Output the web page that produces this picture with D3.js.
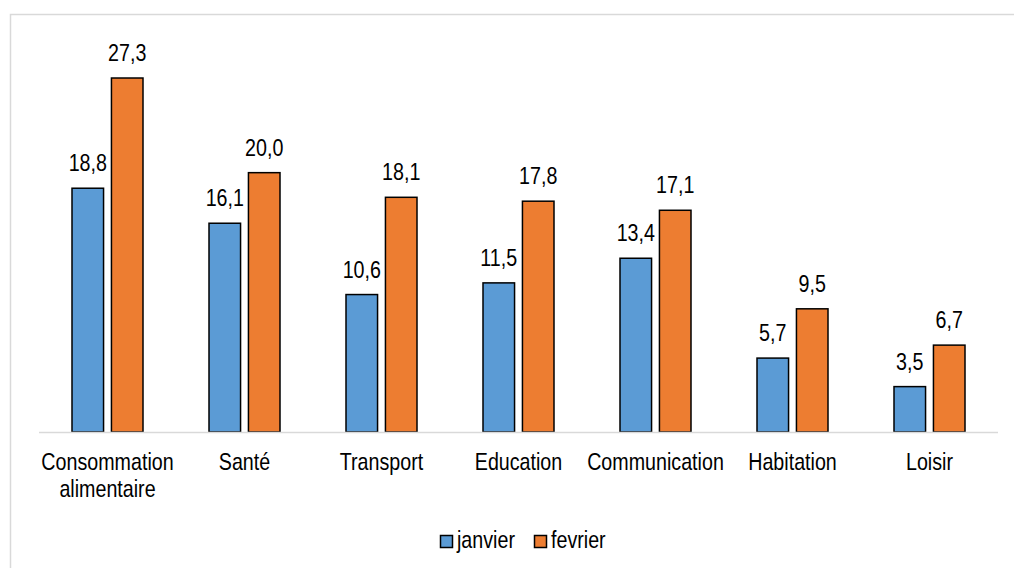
<!DOCTYPE html>
<html>
<head>
<meta charset="utf-8">
<script src="https://d3js.org/d3.v7.min.js"></script>
<style>
  body { margin: 0; background: #fff; }
  text { font-family: "Liberation Sans", Arial, sans-serif; font-size: 24px; fill: #000; }
</style>
</head>
<body>
<div id="chart"></div>
<script>
// données
var categories = ["Consommation alimentaire", "Santé", "Transport", "Education", "Communication", "Habitation", "Loisir"];
var series = ["janvier", "fevrier"];
var janvier = [18.8, 16.1, 10.6, 11.5, 13.4, 5.7, 3.5];
var fevrier = [27.3, 20.0, 18.1, 17.8, 17.1, 9.5, 6.7];
var colors = ["#5B9BD5", "#ED7D31"];

var width = 1014, height = 568;
var narrow = 0.82; // police étroite type Arial Narrow

function place(x, y) {
  return "translate(" + x + "," + y + ") scale(" + narrow + ",1)";
}

var svg = d3.select("#chart").append("svg")
    .attr("width", width)
    .attr("height", height);

// cadre
svg.append("rect")
    .attr("x", 10.5).attr("y", 14.5)
    .attr("width", 1020).attr("height", 580)
    .attr("fill", "none")
    .attr("stroke", "#d9d9d9")
    .attr("stroke-width", 1.5);

var x0 = d3.scaleBand().domain(categories).range([39, 998]);
var bw = x0.bandwidth();
var x1 = d3.scaleBand().domain(series).range([bw / 2 - 35.5, bw / 2 + 35.5]).paddingInner(0.2);
var y = d3.scaleLinear().domain([0, 30]).range([432, 43]);

var data = categories.map(function(c, i) {
  return { cat: c, values: [janvier[i], fevrier[i]] };
});

var groups = svg.selectAll("g.grp")
  .data(data).enter().append("g")
    .attr("class", "grp")
    .attr("transform", function(d) { return "translate(" + x0(d.cat) + ",0)"; });

groups.selectAll("rect")
  .data(function(d) { return d.values.map(function(v, j) { return { s: series[j], v: v, j: j }; }); })
  .enter().append("rect")
    .attr("x", function(d) { return x1(d.s); })
    .attr("y", function(d) { return y(d.v); })
    .attr("width", x1.bandwidth())
    .attr("height", function(d) { return y(0) - y(d.v); })
    .attr("fill", function(d) { return colors[d.j]; })
    .attr("stroke", "#000")
    .attr("stroke-width", 1.5);

groups.selectAll("text.val")
  .data(function(d) { return d.values.map(function(v, j) { return { s: series[j], v: v }; }); })
  .enter().append("text")
    .attr("class", "val")
    .attr("transform", function(d) { return place(x1(d.s) + x1.bandwidth() / 2, y(d.v) - 17); })
    .attr("text-anchor", "middle")
    .text(function(d) { return d3.format(".1f")(d.v).replace(".", ","); });

// axe horizontal
svg.append("line")
    .attr("x1", 39).attr("x2", 998)
    .attr("y1", 432.5).attr("y2", 432.5)
    .attr("stroke", "#d9d9d9")
    .attr("stroke-width", 1.5);

// étiquettes des catégories
var labels = svg.selectAll("text.cat")
  .data(categories).enter().append("text")
    .attr("class", "cat")
    .attr("text-anchor", "middle")
    .attr("transform", function(d) { return place(x0(d) + bw / 2, 470); });

labels.each(function(d) {
  var el = d3.select(this);
  var lines = d === "Consommation alimentaire" ? ["Consommation", "alimentaire"] : [d];
  lines.forEach(function(l, i) {
    el.append("tspan")
      .attr("x", 0)
      .attr("dy", i === 0 ? 0 : 27)
      .text(l);
  });
});

// légende
var legend = svg.append("g");
var legendX = [440, 534];
series.forEach(function(s, i) {
  legend.append("rect")
    .attr("x", legendX[i] + 0.5).attr("y", 535.5)
    .attr("width", 12).attr("height", 12)
    .attr("fill", colors[i])
    .attr("stroke", "#000")
    .attr("stroke-width", 1.5);
  legend.append("text")
    .attr("transform", place(legendX[i] + 17, 548))
    .text(s);
});
</script>
</body>
</html>
